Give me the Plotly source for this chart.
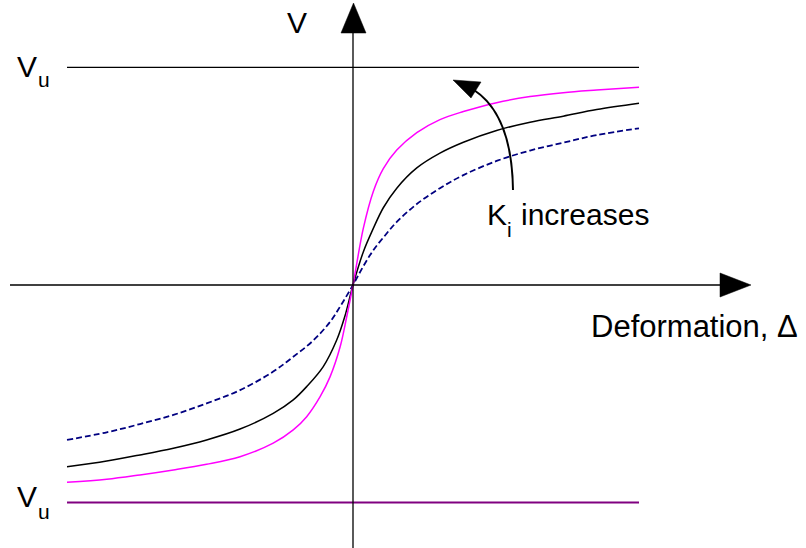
import plotly.graph_objects as go

# Load-deformation curves (normalised: V / Vu against deformation)
mag_delta = [-1.00, -0.861, -0.745, -0.628, -0.512, -0.395, -0.279, -0.209, -0.162, -0.115,
             -0.080, -0.045, -0.022, 0.0, 0.036, 0.071, 0.106, 0.153, 0.223, 0.304, 0.386,
             0.502, 0.619, 0.735, 0.852, 1.00]
mag_v = [-0.907, -0.893, -0.873, -0.850, -0.824, -0.789, -0.727, -0.666, -0.605, -0.513,
         -0.421, -0.284, -0.146, 0.0, 0.260, 0.430, 0.535, 0.620, 0.700, 0.760, 0.797,
         0.838, 0.866, 0.884, 0.896, 0.909]

blk_delta = [-1.00, -0.861, -0.745, -0.628, -0.512, -0.395, -0.279, -0.209, -0.162, -0.104,
             -0.057, -0.029, 0.0, 0.036, 0.071, 0.106, 0.153, 0.223, 0.304, 0.386, 0.502,
             0.619, 0.735, 0.852, 1.00]
blk_v = [-0.835, -0.809, -0.781, -0.750, -0.712, -0.662, -0.590, -0.528, -0.467, -0.375,
         -0.253, -0.146, 0.0, 0.152, 0.260, 0.355, 0.445, 0.538, 0.606, 0.656, 0.710,
         0.748, 0.776, 0.806, 0.835]

nav_delta = [-1.00, -0.861, -0.745, -0.628, -0.512, -0.395, -0.279, -0.209, -0.139, -0.080,
             -0.040, 0.0, 0.036, 0.071, 0.106, 0.153, 0.223, 0.304, 0.386, 0.502, 0.619,
             0.735, 0.852, 1.00]
nav_v = [-0.712, -0.677, -0.639, -0.597, -0.544, -0.483, -0.398, -0.330, -0.255, -0.169,
         -0.088, 0.0, 0.086, 0.160, 0.218, 0.290, 0.372, 0.445, 0.505, 0.570, 0.618,
         0.654, 0.689, 0.720]

# Ultimate capacity lines and their extent
vu_upper = 1.0
vu_lower = -1.0
vu_span = [-1.0, 1.0]

W, H = 806, 548
X_RANGE = [-1.2343, 1.5839]
Y_RANGE = [-1.2086, 1.3097]
FONT = "Liberation Sans, Arial, sans-serif"


def px(x):
    return x / W


def py(y):
    return 1 - y / H


fig = go.Figure()

fig.add_trace(go.Scatter(x=vu_span, y=[vu_upper, vu_upper], mode="lines",
                         line=dict(color="black", width=1.4)))
fig.add_trace(go.Scatter(x=vu_span, y=[vu_lower, vu_lower], mode="lines",
                         line=dict(color="#800080", width=2)))

fig.add_trace(go.Scatter(x=nav_delta, y=nav_v, mode="lines",
                         line=dict(color="#000080", width=1.8, dash="6px,3px", shape="spline")))
fig.add_trace(go.Scatter(x=blk_delta, y=blk_v, mode="lines",
                         line=dict(color="black", width=1.5, shape="spline")))
fig.add_trace(go.Scatter(x=mag_delta, y=mag_v, mode="lines",
                         line=dict(color="#ff00ff", width=1.5, shape="spline")))

shapes = [
    # horizontal axis with arrowhead
    dict(type="line", xref="paper", yref="paper", x0=px(10), x1=px(722), y0=py(285), y1=py(285),
         line=dict(color="black", width=1.3)),
    dict(type="path", xref="paper", yref="paper",
         path=f"M {px(720)} {py(273)} L {px(751)} {py(285)} L {px(720)} {py(297)} Z",
         fillcolor="black", line=dict(color="black", width=0.5)),
    # vertical axis with arrowhead
    dict(type="line", xref="paper", yref="paper", x0=px(353), x1=px(353), y0=py(548), y1=py(32),
         line=dict(color="black", width=1.3)),
    dict(type="path", xref="paper", yref="paper",
         path=f"M {px(341)} {py(33)} L {px(353.5)} {py(3)} L {px(366)} {py(33)} Z",
         fillcolor="black", line=dict(color="black", width=0.5)),
    # curved arrow for increasing initial stiffness
    dict(type="path", xref="paper", yref="paper",
         path=f"M {px(513)} {py(190)} Q {px(512)} {py(115)} {px(474)} {py(90)}",
         line=dict(color="black", width=2)),
    dict(type="path", xref="paper", yref="paper",
         path=f"M {px(453)} {py(80)} L {px(481)} {py(82)} L {px(471)} {py(98)} Z",
         fillcolor="black", line=dict(color="black", width=0.5)),
]


def label(text, x, y, size=30, xanchor="left"):
    return dict(text=text, x=px(x), y=py(y), xref="paper", yref="paper",
                showarrow=False, xanchor=xanchor, yanchor="middle",
                font=dict(family=FONT, size=size, color="black"))


annotations = [
    label("V", 297, 22, xanchor="center"),
    # upper capacity label
    label("V", 15, 66),
    label("u", 36, 79.6, size=21),
    # lower capacity label
    label("V", 15, 496),
    label("u", 36, 511.6, size=21),
    # stiffness note
    label("K", 485, 214),
    label("i", 509.5, 229.6, size=21, xanchor="center"),
    label("increases", 519, 214),
    label("Deformation, Δ", 589, 326, size=31),
]

fig.update_layout(
    width=W, height=H,
    margin=dict(l=0, r=0, t=0, b=0),
    paper_bgcolor="white", plot_bgcolor="white",
    showlegend=False,
    xaxis=dict(range=X_RANGE, visible=False, fixedrange=True),
    yaxis=dict(range=Y_RANGE, visible=False, fixedrange=True),
    shapes=shapes,
    annotations=annotations,
)

fig.write_html("out.html")
